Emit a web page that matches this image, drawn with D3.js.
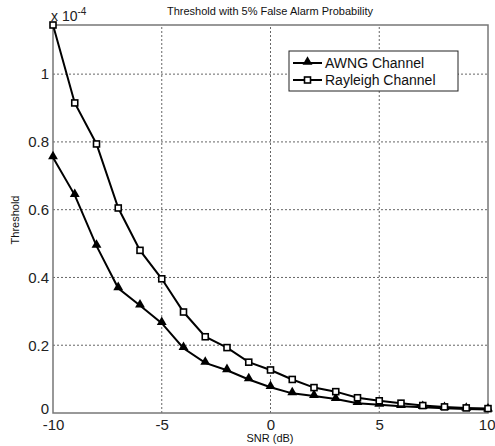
<!DOCTYPE html>
<html>
<head>
<meta charset="utf-8">
<script src="https://cdn.jsdelivr.net/npm/d3@7"></script>
<style>
  body { margin: 0; background: #fff; }
  svg { font-family: "Liberation Sans", Arial, sans-serif; }
</style>
</head>
<body>
<div id="chart"></div>
<script>
// data (threshold in units of 1e-4)
const snr = [-10, -9, -8, -7, -6, -5, -4, -3, -2, -1, 0, 1, 2, 3, 4, 5, 6, 7, 8, 9, 10];
const awgn = [0.754, 0.643, 0.493, 0.368, 0.317, 0.265, 0.191, 0.148, 0.126, 0.099, 0.076,
              0.058, 0.050, 0.041, 0.029, 0.024, 0.020, 0.017, 0.014, 0.012, 0.010];
const rayleigh = [1.145, 0.915, 0.794, 0.605, 0.480, 0.396, 0.298, 0.225, 0.193, 0.150, 0.127,
                  0.099, 0.075, 0.063, 0.045, 0.036, 0.029, 0.022, 0.018, 0.015, 0.013];
const xTicks = [-10, -5, 0, 5, 10];
const yTicks = [0, 0.2, 0.4, 0.6, 0.8, 1];
const seriesNames = ["AWNG Channel", "Rayleigh Channel"];

const width = 495, height = 446;
const margin = {top: 25, right: 7, bottom: 33, left: 53};

const svg = d3.select("#chart").append("svg")
    .attr("width", width)
    .attr("height", height);

const x = d3.scaleLinear().domain([-10, 10]).range([margin.left, width - margin.right]);
const y = d3.scaleLinear().domain([0, 1.145]).range([height - margin.bottom, margin.top]);

// grid
const grid = svg.append("g");
grid.selectAll(".gx").data(xTicks.slice(1, -1)).enter().append("line")
    .attr("x1", d => x(d)).attr("x2", d => x(d))
    .attr("y1", y(0)).attr("y2", margin.top)
    .attr("stroke", "#666").attr("stroke-width", 1).attr("stroke-dasharray", "2,2");
grid.selectAll(".gy").data(yTicks.slice(1)).enter().append("line")
    .attr("x1", x(-10)).attr("x2", x(10))
    .attr("y1", d => y(d)).attr("y2", d => y(d))
    .attr("stroke", "#666").attr("stroke-width", 1).attr("stroke-dasharray", "2,2");

// frame
svg.append("rect")
    .attr("x", x(-10)).attr("y", margin.top)
    .attr("width", x(10) - x(-10)).attr("height", y(0) - margin.top)
    .attr("fill", "none").attr("stroke", "#777").attr("stroke-width", 1.5);

// axes
const xAxis = svg.append("g")
    .attr("transform", `translate(0,${y(0)})`)
    .call(d3.axisBottom(x).tickValues(xTicks).tickSize(0).tickPadding(6)
        .tickFormat(d => String(d)));
xAxis.select(".domain").remove();
xAxis.selectAll("text").attr("font-size", 15).attr("fill", "#222")
    .attr("font-family", "Liberation Sans, Arial, sans-serif");
// keep the last label inside the window
xAxis.selectAll(".tick").filter(d => d === 10).select("text").attr("text-anchor", "end").attr("dx", 7);

const yAxis = svg.append("g")
    .attr("transform", `translate(${x(-10)},0)`)
    .call(d3.axisLeft(y).tickValues(yTicks).tickSize(0).tickPadding(4).tickFormat(d => String(d)));
yAxis.select(".domain").remove();
yAxis.selectAll("text").attr("font-size", 15).attr("fill", "#222")
    .attr("font-family", "Liberation Sans, Arial, sans-serif");
yAxis.selectAll(".tick").filter(d => d === 0).select("text").attr("dy", "0.05em");

// exponent label
const expo = svg.append("text").attr("x", 51).attr("y", 21)
    .attr("font-size", 14).attr("fill", "#222");
expo.append("tspan").text("x 10");
expo.append("tspan").attr("dy", -6).attr("font-size", 10).text("-4");

// title & labels
svg.append("text").attr("x", 270).attr("y", 15).attr("text-anchor", "middle")
    .attr("font-size", 11).attr("fill", "#111")
    .text("Threshold with 5% False Alarm Probability");
svg.append("text").attr("x", 270).attr("y", 442).attr("text-anchor", "middle")
    .attr("font-size", 11).attr("fill", "#111").text("SNR (dB)");
svg.append("text").attr("transform", "translate(19,220) rotate(-90)")
    .attr("text-anchor", "middle").attr("font-size", 11).attr("fill", "#111").text("Threshold");

// lines
const line = d3.line().x((d, i) => x(snr[i])).y(d => y(d));
const plot = svg.append("g");
[rayleigh, awgn].forEach(s => {
    plot.append("path").datum(s).attr("d", line)
        .attr("fill", "none").attr("stroke", "#000").attr("stroke-width", 2);
});

const tri = d3.symbol().type(d3.symbolTriangle).size(42);
plot.selectAll(".tri").data(awgn).enter().append("path")
    .attr("d", tri)
    .attr("transform", (d, i) => `translate(${x(snr[i])},${y(d) - 1})`)
    .attr("fill", "#000");
plot.selectAll(".sq").data(rayleigh).enter().append("rect")
    .attr("x", (d, i) => x(snr[i]) - 3).attr("y", d => y(d) - 3)
    .attr("width", 6).attr("height", 6)
    .attr("fill", "#fff").attr("stroke", "#000").attr("stroke-width", 1.6);

// legend
const lg = svg.append("g").attr("transform", "translate(289,51)");
lg.append("rect").attr("width", 169).attr("height", 40)
    .attr("fill", "#fff").attr("stroke", "#222").attr("stroke-width", 1);
seriesNames.forEach((name, i) => {
    const cy = 12 + i * 17;
    lg.append("line").attr("x1", 4).attr("x2", 33).attr("y1", cy).attr("y2", cy)
        .attr("stroke", "#000").attr("stroke-width", 2);
    if (i === 0) {
        lg.append("path").attr("d", tri).attr("transform", `translate(18.5,${cy - 1})`).attr("fill", "#000");
    } else {
        lg.append("rect").attr("x", 15.5).attr("y", cy - 3).attr("width", 6).attr("height", 6)
            .attr("fill", "#fff").attr("stroke", "#000").attr("stroke-width", 1.6);
    }
    lg.append("text").attr("x", 36).attr("y", cy + 5).attr("font-size", 14).attr("fill", "#111").text(name);
});
</script>
</body>
</html>
